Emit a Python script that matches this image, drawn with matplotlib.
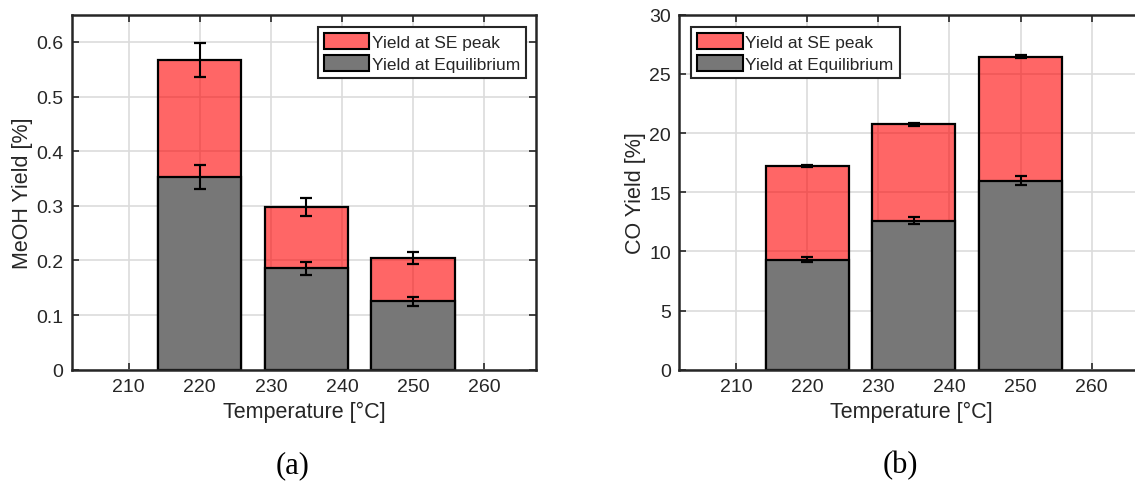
import matplotlib
matplotlib.use("Agg")
import matplotlib.pyplot as plt
import numpy as np

# Reactor temperatures (°C)
temps = [220, 235, 250]

# Methanol yield (%)
meoh_peak = [0.567, 0.298, 0.205]
meoh_peak_err = [0.031, 0.0165, 0.011]
meoh_eq = [0.352, 0.186, 0.125]
meoh_eq_err = [0.022, 0.012, 0.008]

# CO yield (%)
co_peak = [17.22, 20.72, 26.45]
co_peak_err = [0.08, 0.09, 0.12]
co_eq = [9.3, 12.6, 15.95]
co_eq_err = [0.24, 0.30, 0.38]

xticks = [210, 220, 230, 240, 250, 260]
meoh_yticks = [0, 0.1, 0.2, 0.3, 0.4, 0.5, 0.6]
co_yticks = [0, 5, 10, 15, 20, 25, 30]

plt.rcParams['font.family'] = ['Liberation Sans', 'DejaVu Sans']
TXT = '#262626'

fig = plt.figure(figsize=(11.35, 4.85), dpi=100)
ax1 = fig.add_axes([0.0632, 0.2357, 0.4091, 0.732])
ax2 = fig.add_axes([0.5985, 0.2357, 0.4090, 0.732])

BAR_W = 11.7


def draw_panel(ax, peak, peak_err, eq, eq_err, ylim, yticks, ylabel, leg_loc, leg_anchor):
    ax.set_axisbelow(True)
    ax.grid(True, color='#dcdcdc', linewidth=1.2)
    h_peak = ax.bar(temps, peak, width=BAR_W, color='red', alpha=0.6,
                    edgecolor='none', zorder=2)
    ax.bar(temps, peak, width=BAR_W, fill=False, edgecolor='black',
           linewidth=1.6, zorder=2.1)
    h_eq = ax.bar(temps, eq, width=BAR_W, color='#777777', edgecolor='black',
                  linewidth=1.6, zorder=3)
    ax.errorbar(temps, peak, yerr=peak_err, fmt='none', ecolor='black',
                elinewidth=1.5, capsize=4.5, capthick=1.6, zorder=4)
    ax.errorbar(temps, eq, yerr=eq_err, fmt='none', ecolor='black',
                elinewidth=1.5, capsize=4.5, capthick=1.6, zorder=4)

    ax.set_xlim(202.0, 267.3)
    ax.set_ylim(*ylim)
    ax.set_xticks(xticks)
    ax.set_yticks(yticks)
    ax.set_yticklabels([f'{v:g}' for v in yticks])
    ax.tick_params(direction='in', length=5, width=1.2, color=TXT,
                   labelsize=14, labelcolor=TXT, top=True, right=True,
                   pad=6)
    for s in ax.spines.values():
        s.set_color(TXT)
        s.set_linewidth(1.8)
        s.set_zorder(5)
    ax.set_xlabel('Temperature [°C]', fontsize=15.5, color=TXT, labelpad=4)
    ax.set_ylabel(ylabel, fontsize=15.5, color=TXT, labelpad=2)

    leg = ax.legend([h_peak, h_eq], ['Yield at SE peak', 'Yield at Equilibrium'],
                    loc=leg_loc, bbox_to_anchor=leg_anchor, borderaxespad=0,
                    fontsize=12.5, fancybox=False, framealpha=1,
                    edgecolor=TXT, handlelength=2.6, handleheight=1.05,
                    handletextpad=0.15, borderpad=0.35, labelspacing=0.3)
    leg.get_frame().set_linewidth(1.5)
    for p in leg.get_patches():
        p.set_edgecolor('black')
        p.set_linewidth(1.5)
        p.set_alpha(None)
    leg.get_patches()[0].set_facecolor((1.0, 0.4, 0.4))
    for t in leg.get_texts():
        t.set_color(TXT)
    leg.set_zorder(6)


draw_panel(ax1, meoh_peak, meoh_peak_err, meoh_eq, meoh_eq_err,
           (0, 0.65), meoh_yticks, 'MeOH Yield [%]',
           'upper right', (0.9785, 0.966))
draw_panel(ax2, co_peak, co_peak_err, co_eq, co_eq_err,
           (0, 30), co_yticks, 'CO Yield [%]',
           'upper left', (0.026, 0.966))

fig.text(293 / 1135, 1 - 466 / 485, '(a)', family=['Liberation Serif'],
         fontsize=22, ha='center', va='center', color='black')
fig.text(900 / 1135, 1 - 466 / 485, '(b)', family=['Liberation Serif'],
         fontsize=22, ha='center', va='center', color='black')

fig.savefig('out.png', dpi=100, facecolor='white')
